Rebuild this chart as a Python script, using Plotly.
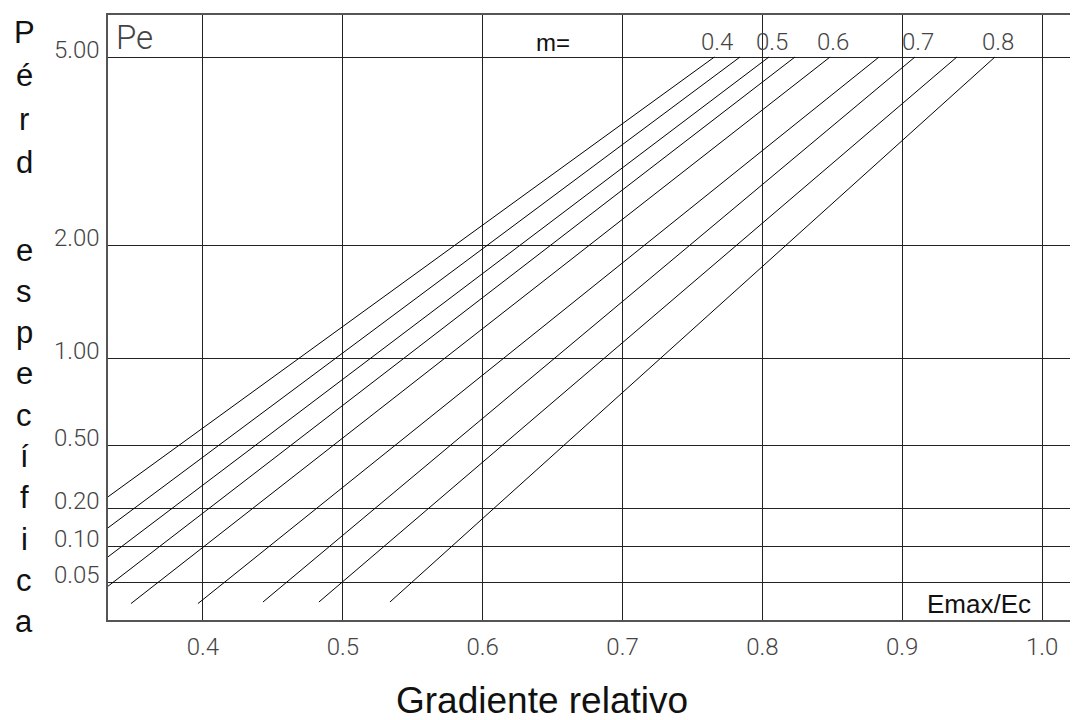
import numpy as np
import plotly.graph_objects as go

# ---------------- data ----------------
# Relative gradient (Emax/Ec) axis ticks
X_TICKS = [0.4, 0.5, 0.6, 0.7, 0.8, 0.9, 1.0]
X_TICK_TEXT = ["0.4", "0.5", "0.6", "0.7", "0.8", "0.9", "1.0"]

# Specific loss (Pe) axis ticks
PE_TICKS = [5.0, 2.0, 1.0, 0.5, 0.2, 0.1, 0.05]
PE_TICK_TEXT = ["5.00", "2.00", "1.00", "0.50", "0.20", "0.10", "0.05"]

# Nomogram lines, one per exponent m
M_VALUES = [0.4, 0.45, 0.5, 0.55, 0.6, 0.65, 0.7, 0.75, 0.8]
M_LABELLED = [True, False, True, False, True, False, True, False, True]
X_START = [0.332, 0.332, 0.332, 0.332, 0.3485, 0.3964, 0.4429, 0.4829, 0.5337]
PE_START = [0.235, 0.139, 0.081, 0.046, 0.033, 0.033, 0.034, 0.034, 0.034]
X_END = [0.7657, 0.7840, 0.8047, 0.8233, 0.8484, 0.8834, 0.9091, 0.9391, 0.9663]
PE_END = [5.0, 5.0, 5.0, 5.0, 5.0, 5.0, 5.0, 5.0, 5.0]

# ---------------- nomogram Pe scale (axis definition) ----------------
# graduation of the (non-logarithmic) Pe scale, in chart scale units
_SCALE_PE = [0.05, 0.1, 0.2, 0.5, 1.0, 2.0, 5.0]
_SCALE_U = [38.0, 74.0, 112.0, 175.0, 262.0, 375.0, 563.0]
Y_RANGE = [0.0, 605.0]
X_RANGE = [0.3321, 1.0314]


def pe_to_u(pe):
    lp = np.log10(np.asarray(pe, dtype=float))
    lx = np.log10(_SCALE_PE)
    u = np.interp(lp, lx, _SCALE_U)
    lo_slope = (_SCALE_U[1] - _SCALE_U[0]) / (lx[1] - lx[0])
    u = np.where(lp < lx[0], _SCALE_U[0] + (lp - lx[0]) * lo_slope, u)
    return u


THIN = "Roboto, Liberation Sans, sans-serif"
SANS = "Liberation Sans, Arial, sans-serif"
INK = "#111"
THIN_INK = "#444"

fig = go.Figure()

for i, m in enumerate(M_VALUES):
    fig.add_trace(go.Scatter(
        x=[X_START[i], X_END[i]],
        y=pe_to_u([PE_START[i], PE_END[i]]),
        mode="lines",
        line=dict(color="black", width=1),
        name=f"m={m}",
        showlegend=False,
        hoverinfo="skip",
    ))

annotations = []

# m labels at the top of the lines
for i, m in enumerate(M_VALUES):
    if M_LABELLED[i]:
        annotations.append(dict(
            x=X_END[i], y=float(pe_to_u(PE_END[i])), xref="x", yref="y",
            text=f"{m:.1f}", showarrow=False, xanchor="center", yanchor="bottom",
            xshift=3, yshift=-1,
            font=dict(family=THIN, size=24, color=THIN_INK, weight=300),
        ))

# Pe tick labels (sit just above their gridline)
for pe, txt in zip(PE_TICKS, PE_TICK_TEXT):
    annotations.append(dict(
        x=0, y=float(pe_to_u(pe)), xref="paper", yref="y",
        text=txt, showarrow=False, xanchor="right", yanchor="middle",
        xshift=-6, yshift=7,
        font=dict(family=THIN, size=24, color=THIN_INK, weight=300),
    ))

# Vertical title "Pérd especifica"
top_letters = list("Pérd")
bottom_letters = list("específica")
for k, ch in enumerate(top_letters):
    py = 33 + k * 43
    annotations.append(dict(
        x=0, y=(620 - py) / 605, xref="paper", yref="paper", text=ch,
        showarrow=False, xanchor="center", yanchor="middle", xshift=-84,
        font=dict(family=SANS, size=31, color=INK),
    ))
for k, ch in enumerate(bottom_letters):
    py = 250 + k * 41.3
    annotations.append(dict(
        x=0, y=(620 - py) / 605, xref="paper", yref="paper", text=ch,
        showarrow=False, xanchor="center", yanchor="middle", xshift=-84,
        font=dict(family=SANS, size=31, color=INK),
    ))

# "Pe" corner label
annotations.append(dict(
    x=0, y=1, xref="paper", yref="paper", text="Pe", showarrow=False,
    xanchor="left", yanchor="top", xshift=6, yshift=-1,
    font=dict(family=THIN, size=33, color=THIN_INK, weight=300),
))
# "m="
annotations.append(dict(
    x=0.65, y=float(pe_to_u(5.0)), xref="x", yref="y", text="m=",
    showarrow=False, xanchor="center", yanchor="middle", yshift=15,
    font=dict(family=SANS, size=24, color=INK),
))
# "Emax/Ec"
annotations.append(dict(
    x=1.0, y=float(pe_to_u(0.05)), xref="x", yref="y",
    text="Emax/Ec",
    showarrow=False, xanchor="right", yanchor="middle", xshift=-9, yshift=-22,
    font=dict(family=SANS, size=26, color=INK),
))
# x title
annotations.append(dict(
    x=0.5, y=0, xref="paper", yref="paper", text="Gradiente relativo",
    showarrow=False, xanchor="center", yanchor="middle", xshift=-55, yshift=-80,
    font=dict(family=SANS, size=37, color=INK),
))

fig.update_layout(
    width=1078, height=720,
    margin=dict(l=100, r=0, t=7, b=108),
    paper_bgcolor="white", plot_bgcolor="white",
    showlegend=False,
    annotations=annotations,
    xaxis=dict(
        range=X_RANGE, tickmode="array", tickvals=X_TICKS, ticktext=X_TICK_TEXT,
        showgrid=True, gridcolor="#222", gridwidth=1, zeroline=False,
        showline=True, linecolor="#555", linewidth=1.5, mirror=True,
        ticks="", ticklabelstandoff=4,
        tickfont=dict(family=THIN, size=24, color=THIN_INK, weight=300),
    ),
    yaxis=dict(
        range=Y_RANGE, tickmode="array", tickvals=[float(v) for v in pe_to_u(PE_TICKS)],
        showticklabels=False, showgrid=True, gridcolor="#222", gridwidth=1,
        zeroline=False, showline=True, linecolor="#555", linewidth=1.5,
        ticks="",
    ),
)

fig.write_html("out.html")
